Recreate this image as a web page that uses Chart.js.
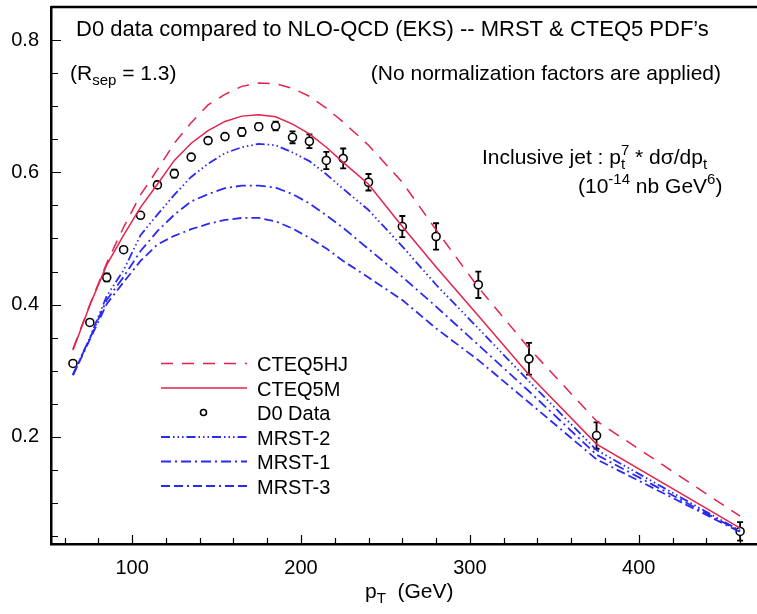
<!DOCTYPE html>
<html>
<head>
<meta charset="utf-8">
<script src="https://cdn.jsdelivr.net/npm/chart.js@4.4.0/dist/chart.umd.min.js"></script>
<style>
  html, body { margin: 0; padding: 0; background: #fff; }
</style>
</head>
<body>
<canvas id="jetChart" width="757" height="614"></canvas>
<script>
// pT bins (GeV)
const ptBins = [65, 75, 85, 95, 105, 115, 125, 135, 145, 155, 165, 175,
  185, 195, 205, 215, 225, 240, 260, 280, 305, 335, 375, 460];

// D0 inclusive jet data, pt^7 * dsigma/dpt
const d0Data = [0.311, 0.373, 0.441, 0.483, 0.535, 0.581, 0.598, 0.623, 0.648, 0.654, 0.661, 0.669,
  0.670, 0.653, 0.647, 0.618, 0.621, 0.585, 0.518, 0.503, 0.430, 0.318, 0.202, 0.057];
const d0Err = [0.003, 0.003, 0.006, 0.003, 0.003, 0.005, 0.006, 0.003, 0.004, 0.004, 0.006, 0.005,
  0.0065, 0.009, 0.0105, 0.013, 0.015, 0.0125, 0.016, 0.020, 0.020, 0.024, 0.020, 0.014];

// NLO-QCD (EKS) predictions
const cteq5hj = [0.333, 0.400, 0.463, 0.517, 0.566, 0.604, 0.644, 0.675, 0.702, 0.718, 0.730, 0.735,
  0.734, 0.727, 0.715, 0.697, 0.676, 0.641, 0.585, 0.513, 0.426, 0.334, 0.224, 0.080];
const cteq5m = [0.331, 0.399, 0.460, 0.505, 0.547, 0.582, 0.618, 0.644, 0.663, 0.677, 0.685, 0.687,
  0.684, 0.673, 0.658, 0.638, 0.615, 0.582, 0.518, 0.457, 0.383, 0.294, 0.189, 0.062];
const mrst2 = [0.294, 0.350, 0.413, 0.452, 0.505, 0.536, 0.566, 0.593, 0.613, 0.629, 0.638, 0.643,
  0.641, 0.630, 0.617, 0.597, 0.575, 0.543, 0.488, 0.430, 0.364, 0.284, 0.180, 0.058];
const mrst1 = [0.294, 0.349, 0.407, 0.442, 0.481, 0.511, 0.536, 0.556, 0.567, 0.576, 0.580, 0.580,
  0.577, 0.567, 0.553, 0.535, 0.516, 0.484, 0.442, 0.397, 0.339, 0.269, 0.173, 0.057];
const mrst3 = [0.293, 0.347, 0.401, 0.434, 0.466, 0.491, 0.504, 0.514, 0.522, 0.528, 0.531, 0.531,
  0.526, 0.515, 0.501, 0.485, 0.466, 0.441, 0.407, 0.364, 0.316, 0.252, 0.166, 0.056];

// axis ticks
const xTickValues = [100, 200, 300, 400];
const yTickValues = [0.2, 0.4, 0.6, 0.8];
const xMinorStep = 20;
const yMinorStep = 0.05;

const RED = "#e3234d";
const BLUE = "#2a2af2";
const FONT = "'Liberation Sans', Arial, sans-serif";

const pts = (ys) => ptBins.map((x, i) => ({ x: x, y: ys[i] }));

const datasets = [
  { label: "CTEQ5HJ", data: pts(cteq5hj), borderColor: RED, borderDash: [12, 9], borderWidth: 1.5 },
  { label: "CTEQ5M", data: pts(cteq5m), borderColor: RED, borderDash: [], borderWidth: 1.5 },
  { label: "MRST-2", data: pts(mrst2), borderColor: BLUE, borderDash: [9, 3, 1.5, 3, 1.5, 3, 1.5, 3], borderWidth: 1.8 },
  { label: "MRST-1", data: pts(mrst1), borderColor: BLUE, borderDash: [10, 4, 2, 4], borderWidth: 1.8 },
  { label: "MRST-3", data: pts(mrst3), borderColor: BLUE, borderDash: [9, 4, 9, 4, 2, 4], borderWidth: 1.8 },
  { label: "D0 Data", data: pts(d0Data), showLine: false, pointRadius: 4, pointBorderWidth: 1.6,
    pointBorderColor: "#000", pointBackgroundColor: "#fff", borderColor: "#000" }
].map(d => Object.assign({ pointRadius: 0, tension: 0, fill: false }, d));

const legendOrder = ["CTEQ5HJ", "CTEQ5M", "D0 Data", "MRST-2", "MRST-1", "MRST-3"];

// text with sub/superscripts: parts = [{t, s, dy, stay}]
function drawRich(ctx, x, y, parts) {
  let cx = x;
  parts.forEach(p => {
    ctx.font = p.s + "px " + FONT;
    ctx.fillText(p.t, cx, y + (p.dy || 0));
    if (!p.stay) cx += ctx.measureText(p.t).width;
  });
}

const decorPlugin = {
  id: "decor",
  beforeDatasetDraw(chart, args) {
    if (chart.data.datasets[args.index].label !== "D0 Data") return;
    const { ctx, scales: { x, y } } = chart;
    ctx.save();
    ctx.strokeStyle = "#000";
    ctx.lineWidth = 1.8;
    ptBins.forEach((pt, i) => {
      const px = x.getPixelForValue(pt);
      const y1 = y.getPixelForValue(d0Data[i] + d0Err[i]);
      const y2 = y.getPixelForValue(d0Data[i] - d0Err[i]);
      ctx.beginPath();
      ctx.moveTo(px, y1); ctx.lineTo(px, y2);
      ctx.moveTo(px - 3, y1); ctx.lineTo(px + 3, y1);
      ctx.moveTo(px - 3, y2); ctx.lineTo(px + 3, y2);
      ctx.stroke();
    });
    ctx.restore();
  },
  afterDraw(chart) {
    const { ctx, chartArea: a, scales: { x, y } } = chart;
    ctx.save();
    // top frame line
    ctx.strokeStyle = "#000";
    ctx.lineWidth = 2.5;
    ctx.beginPath();
    ctx.moveTo(a.left, a.top); ctx.lineTo(chart.width, a.top);
    ctx.stroke();

    // inward tick marks
    ctx.lineWidth = 1.2;
    ctx.beginPath();
    for (let v = 60; v <= x.max; v += xMinorStep) {
      const px = Math.round(x.getPixelForValue(v)) + 0.5;
      const len = v % 100 === 0 ? 9 : 6;
      ctx.moveTo(px, a.bottom); ctx.lineTo(px, a.bottom - len);
    }
    for (let k = 1; k * yMinorStep < y.max - 0.01; k++) {
      const v = k * yMinorStep;
      const py = Math.round(y.getPixelForValue(v)) + 0.5;
      const major = yTickValues.some(t => Math.abs(t - v) < 1e-6);
      ctx.moveTo(a.left, py); ctx.lineTo(a.left + (major ? 10 : 7), py);
    }
    ctx.stroke();

    // texts
    ctx.fillStyle = "#000";
    ctx.textBaseline = "alphabetic";
    ctx.textAlign = "left";
    ctx.font = "22px " + FONT;
    ctx.fillText("D0 data compared to NLO-QCD (EKS) -- MRST & CTEQ5 PDF\u2019s", 76, 36);
    drawRich(ctx, 70, 80, [{ t: "(R", s: 21 }, { t: "sep", s: 15, dy: 5 }, { t: " = 1.3)", s: 21 }]);
    ctx.font = "21px " + FONT;
    ctx.textAlign = "right";
    ctx.fillText("(No normalization factors are applied)", 721, 80);
    ctx.textAlign = "left";
    drawRich(ctx, 482, 164, [
      { t: "Inclusive jet : p", s: 21 }, { t: "t", s: 15, dy: 5, stay: true }, { t: "7", s: 15, dy: -9 },
      { t: " * d\u03c3/dp", s: 21 }, { t: "t", s: 15, dy: 5 }]);
    drawRich(ctx, 578, 193, [
      { t: "(10", s: 21 }, { t: "-14", s: 15, dy: -9 }, { t: " nb GeV", s: 21 },
      { t: "6", s: 15, dy: -9 }, { t: ")", s: 21 }]);
    drawRich(ctx, 365, 598, [{ t: "p", s: 21 }, { t: "T", s: 15, dy: 5 }, { t: "  (GeV)", s: 21 }]);

    // legend
    const lx1 = 161, lx2 = 247, tx = 257, ly0 = 363.5, dy = 24.5;
    legendOrder.forEach((name, i) => {
      const ds = chart.data.datasets.find(d => d.label === name);
      const ly = ly0 + i * dy;
      if (name === "D0 Data") {
        ctx.beginPath();
        ctx.arc(203.5, ly, 3, 0, Math.PI * 2);
        ctx.lineWidth = 1.6;
        ctx.strokeStyle = "#000";
        ctx.stroke();
      } else {
        ctx.beginPath();
        ctx.setLineDash(ds.borderDash);
        ctx.strokeStyle = ds.borderColor;
        ctx.lineWidth = ds.borderWidth;
        ctx.moveTo(lx1, ly); ctx.lineTo(lx2, ly);
        ctx.stroke();
        ctx.setLineDash([]);
      }
      ctx.fillStyle = "#000";
      ctx.font = "20px " + FONT;
      ctx.fillText(name, tx, ly + 7.5);
    });
    ctx.restore();
  }
};

new Chart(document.getElementById("jetChart"), {
  type: "line",
  data: { datasets: datasets },
  plugins: [decorPlugin],
  options: {
    responsive: false,
    animation: false,
    layout: { autoPadding: false, padding: { top: 7, right: 0, left: 0, bottom: 0 } },
    plugins: { legend: { display: false }, tooltip: { enabled: false } },
    scales: {
      x: {
        type: "linear",
        min: 52,
        max: 470,
        afterBuildTicks: (s) => { s.ticks = xTickValues.map(v => ({ value: v })); },
        afterFit: (s) => { s.height = 70; s.paddingLeft = 0; s.paddingRight = 0; },
        grid: { display: false, drawTicks: false, tickLength: 0 },
        border: { display: true, width: 2.5, color: "#000" },
        ticks: { color: "#000", font: { size: 20, family: FONT }, padding: 12, maxRotation: 0 }
      },
      y: {
        min: 0.038,
        max: 0.85,
        afterBuildTicks: (s) => { s.ticks = yTickValues.map(v => ({ value: v })); },
        afterFit: (s) => { s.width = 51; s.paddingTop = 0; s.paddingBottom = 0; },
        grid: { display: false, drawTicks: false, tickLength: 0 },
        border: { display: true, width: 2.5, color: "#000" },
        ticks: { color: "#000", font: { size: 20, family: FONT }, padding: 12,
          callback: (v) => v.toFixed(1) }
      }
    }
  }
});
</script>
</body>
</html>
